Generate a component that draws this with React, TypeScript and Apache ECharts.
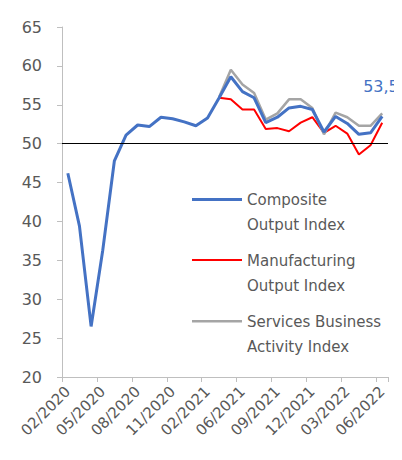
import React, { useEffect, useRef } from "react";
import * as echarts from "echarts";

const categories = [
  "02/2020", "03/2020", "04/2020", "05/2020", "06/2020", "07/2020", "08/2020",
  "09/2020", "10/2020", "11/2020", "12/2020", "01/2021", "02/2021", "04/2021",
  "05/2021", "06/2021", "07/2021", "08/2021", "09/2021", "10/2021", "11/2021",
  "12/2021", "01/2022", "02/2022", "03/2022", "04/2022", "05/2022", "06/2022",
];

const composite = [
  46.2, 39.4, 26.5, 36.3, 47.8, 51.1, 52.4, 52.2, 53.4, 53.2, 52.8, 52.3, 53.3,
  55.9, 58.6, 56.7, 55.9, 52.7, 53.4, 54.6, 54.8, 54.4, 51.5, 53.5, 52.6, 51.2,
  51.4, 53.5,
];

const manufacturing = [
  null, null, null, null, null, null, null, null, null, null, null, null, null,
  55.9, 55.7, 54.4, 54.4, 51.9, 52.0, 51.6, 52.7, 53.4, 51.4, 52.3, 51.3, 48.6,
  49.8, 52.7,
];

const services = [
  null, null, null, null, null, null, null, null, null, null, null, null, null,
  56.0, 59.5, 57.6, 56.5, 53.1, 53.9, 55.7, 55.7, 54.6, 51.2, 54.0, 53.4, 52.3,
  52.3, 53.9,
];

const seriesNames = [
  "Composite\nOutput Index",
  "Manufacturing\nOutput Index",
  "Services Business\nActivity Index",
];

const FONT = "DejaVu Sans";
const TEXT = "#595959";

// legend icon: a bar at the top of a 50x28 box (dummy point keeps the box size)
const legendIcon = (h: number) =>
  `path://M0,0H50V${h}H0Z M0,28L0.01,28L0,28Z`;

export default function App() {
  const ref = useRef<HTMLDivElement>(null);
  useEffect(() => {
    if (!ref.current) return;
    const chart = echarts.init(ref.current, null, { renderer: "svg" });
    chart.setOption({
      animation: false,
      textStyle: { fontFamily: FONT },
      grid: { left: 62, right: 14, top: 27, bottom: 83 },
      legend: {
        orient: "vertical",
        left: 187,
        top: 182,
        itemWidth: 50,
        itemHeight: 28,
        itemGap: 11,
        data: [
          { name: seriesNames[0], icon: legendIcon(3) },
          { name: seriesNames[1], icon: legendIcon(2) },
          { name: seriesNames[2], icon: legendIcon(2.5) },
        ],
        itemStyle: { borderWidth: 0 },
        textStyle: {
          fontFamily: FONT,
          fontSize: 15,
          color: TEXT,
          lineHeight: 25,
        },
      },
      xAxis: {
        type: "category",
        data: categories,
        boundaryGap: true,
        axisLine: { lineStyle: { color: "#BFBFBF", width: 1 } },
        axisTick: { show: true, interval: 2, length: 5, lineStyle: { color: "#BFBFBF" } },
        axisLabel: {
          interval: 2,
          rotate: 45,
          margin: 12,
          color: TEXT,
          fontSize: 15,
          fontFamily: FONT,
        },
        splitLine: { show: false },
      },
      yAxis: {
        type: "value",
        min: 20,
        max: 65,
        interval: 5,
        axisLine: { show: true, lineStyle: { color: "#BFBFBF", width: 1 } },
        axisTick: { show: true, length: 5, lineStyle: { color: "#BFBFBF" } },
        axisLabel: { margin: 20, color: TEXT, fontSize: 16, fontFamily: FONT },
        splitLine: { show: false },
      },
      series: [
        {
          name: seriesNames[0],
          type: "line",
          data: composite,
          symbol: "none",
          clip: false,
          z: 4,
          lineStyle: { color: "#4472C4", width: 3 },
          itemStyle: { color: "#4472C4" },
          endLabel: {
            show: true,
            formatter: (p: any) => String(p.value).replace(".", ","),
            color: "#4472C4",
            fontSize: 16,
            fontFamily: FONT,
            offset: [-27, -30],
          },
          markLine: {
            silent: true,
            symbol: "none",
            label: { show: false },
            lineStyle: { color: "#000000", width: 1, type: "solid" },
            data: [{ yAxis: 50 }],
          },
        },
        {
          name: seriesNames[1],
          type: "line",
          data: manufacturing,
          symbol: "none",
          z: 2,
          lineStyle: { color: "#FF0000", width: 2 },
          itemStyle: { color: "#FF0000" },
        },
        {
          name: seriesNames[2],
          type: "line",
          data: services,
          symbol: "none",
          z: 3,
          lineStyle: { color: "#A5A5A5", width: 2.5 },
          itemStyle: { color: "#A5A5A5" },
        },
      ],
    });
    return () => chart.dispose();
  }, []);
  return <div ref={ref} style={{ width: 402, height: 460, margin: -8 }} />;
}
